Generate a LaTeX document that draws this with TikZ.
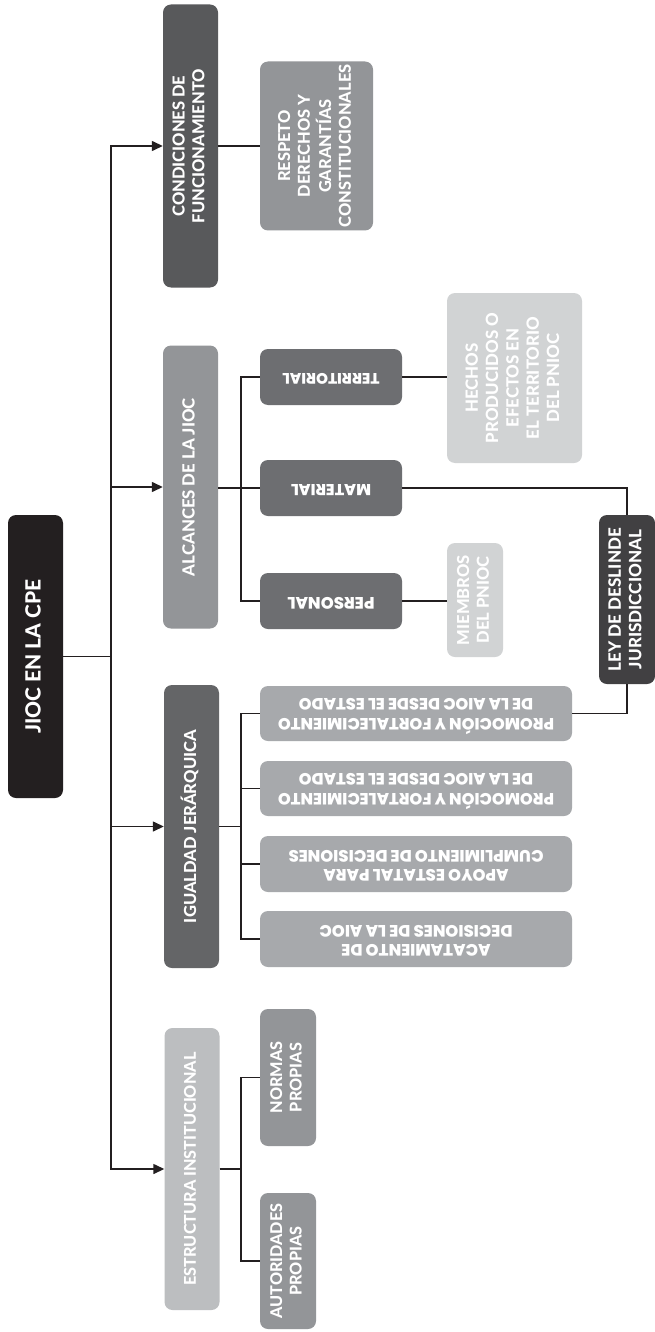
\documentclass[tikz,border=0pt]{standalone}
\usepackage{fontspec}
\setmainfont{Lato}[BoldFont={Lato Heavy}]
\newfontfamily\widefont{Poppins}[BoldFont={Poppins ExtraBold}]
\usetikzlibrary{arrows.meta}

\definecolor{cBlack}{HTML}{231F20}
\definecolor{cLey}{HTML}{414042}
\definecolor{cDark}{HTML}{58595B}
\definecolor{cMidDark}{HTML}{6D6E71}
\definecolor{cIgu}{HTML}{646567}
\definecolor{cMid}{HTML}{939598}
\definecolor{cProm}{HTML}{A7A9AC}
\definecolor{cLight}{HTML}{BCBEC0}
\definecolor{cPale}{HTML}{D1D3D4}
\definecolor{cLine}{HTML}{231F20}

% text reading upwards, scaled so its longest line is #1 long
\newcommand\vtext[2]{\rotatebox{90}{\resizebox{#1}{!}{\fontsize{14.5}{17.5}\selectfont\begin{tabular}{@{}c@{}}#2\end{tabular}}}}
% text turned upside down, scaled so its longest line is #1 long
\newcommand\ftext[2]{\rotatebox{180}{\resizebox{#1}{!}{\widefont\bfseries\fontsize{12.5}{15}\selectfont\begin{tabular}{@{}c@{}}#2\end{tabular}}}}

\tikzset{
  box/.style={rounded corners=8pt, inner sep=0pt, text=white, font=\bfseries},
  sz/.style 2 args={minimum width=#1, minimum height=#2},
  conn/.style={draw=cLine, line width=1.4pt},
  arr/.style={conn, -{Triangle[length=11pt,width=10pt]}}
}

\begin{document}
\begin{tikzpicture}[x=1pt,y=-1pt]
\fill[white] (0,0) rectangle (655,1332);
\useasboundingbox (0,0) rectangle (655,1332);

% root
\node[box, fill=cBlack, sz={55pt}{283pt}] (jioc) at (35.5,656.5) {\vtext{154pt}{JIOC EN LA CPE}};

% first level
\node[box, fill=cDark, sz={55pt}{283pt}] (cond) at (190.5,146) {\vtext{154pt}{CONDICIONES DE\\FUNCIONAMIENTO}};
\node[box, fill=cMid, sz={55pt}{283pt}] (alc) at (190.5,487) {\vtext{178pt}{ALCANCES DE LA JIOC}};
\node[box, fill=cIgu, sz={55pt}{283pt}] (igu) at (191.5,826.5) {\vtext{193pt}{IGUALDAD JERÁRQUICA}};
\node[box, fill=cLight, sz={55pt}{282pt}] (est) at (192,1169) {\vtext{233pt}{ESTRUCTURA INSTITUCIONAL}};

% condiciones
\node[box, fill=cMid, sz={113pt}{169pt}] (resp) at (316.5,146) {\vtext{163pt}{RESPETO\\DERECHOS Y\\GARANTÍAS\\CONSTITUCIONALES}};

% alcances
\node[box, fill=cMidDark, sz={142pt}{56pt}] (terr) at (331,377) {\ftext{97pt}{TERRITORIAL}};
\node[box, fill=cMidDark, sz={142pt}{56pt}] (mat) at (331,488) {\ftext{80pt}{MATERIAL}};
\node[box, fill=cMidDark, sz={142pt}{56pt}] (pers) at (331,601) {\ftext{87pt}{PERSONAL}};
\node[box, fill=cPale, sz={135pt}{170pt}] (hech) at (514.5,378) {\vtext{130pt}{HECHOS\\PRODUCIDOS O\\EFECTOS EN\\EL TERRITORIO\\DEL PNIOC}};
\node[box, fill=cPale, sz={56pt}{114pt}] (miem) at (475,600) {\vtext{90pt}{MIEMBROS\\DEL PNIOC}};
\node[box, fill=cLey, sz={56pt}{169pt}] (ley) at (627,599.5) {\vtext{143pt}{LEY DE DESLINDE\\JURISDICCIONAL}};

% igualdad
\node[box, fill=cProm, sz={312pt}{55pt}] (p1) at (416,713.5) {\ftext{276pt}{PROMOCIÓN Y FORTALECIMIENTO\\DE LA AIOC DESDE EL ESTADO}};
\node[box, fill=cProm, sz={312pt}{55pt}] (p2) at (416,788.5) {\ftext{276pt}{PROMOCIÓN Y FORTALECIMIENTO\\DE LA AIOC DESDE EL ESTADO}};
\node[box, fill=cProm, sz={312pt}{56pt}] (p3) at (416,864) {\ftext{255pt}{APOYO ESTATAL PARA\\CUMPLIMIENTO DE DECISIONES}};
\node[box, fill=cProm, sz={312pt}{56pt}] (p4) at (416,939) {\ftext{193pt}{ACATAMIENTO DE\\DECISIONES DE LA AIOC}};

% estructura
\node[box, fill=cMid, sz={56pt}{137pt}] (norm) at (288,1077.5) {\vtext{72pt}{NORMAS\\PROPIAS}};
\node[box, fill=cMid, sz={56pt}{136pt}] (aut) at (288,1261) {\vtext{115pt}{AUTORIDADES\\PROPIAS}};

% junction points
\coordinate (t) at (111,656.5);
\coordinate (sa) at (241,488);
\coordinate (si) at (241,826.5);
\coordinate (se) at (241,1169);

% root to first level
\draw[conn] (jioc.east) -- (t);
\draw[arr] (t) |- (cond.west);
\draw[arr] (t) |- (alc.west);
\draw[arr] (t) |- (igu.west);
\draw[arr] (t) |- (est.west);

% condiciones
\draw[conn] (cond.east) -- (cond.east -| resp.west);

% alcances
\draw[conn] (alc.east |- sa) -- (sa);
\draw[conn] (sa) |- (terr.west);
\draw[conn] (sa) -- (mat.west);
\draw[conn] (sa) |- (pers.west);
\draw[conn] (terr.east) -- (terr.east -| hech.west);
\draw[conn] (pers.east) -- (pers.east -| miem.west);
\draw[conn] (mat.east) -| (ley.north);
\draw[conn] (ley.south) |- (p1.east);

% igualdad
\draw[conn] (igu.east) -- (si);
\draw[conn] (si) |- (p1.west);
\draw[conn] (si) |- (p2.west);
\draw[conn] (si) |- (p3.west);
\draw[conn] (si) |- (p4.west);

% estructura
\draw[conn] (est.east) -- (se);
\draw[conn] (se) |- (norm.west);
\draw[conn] (se) |- (aut.west);
\end{tikzpicture}
\end{document}
